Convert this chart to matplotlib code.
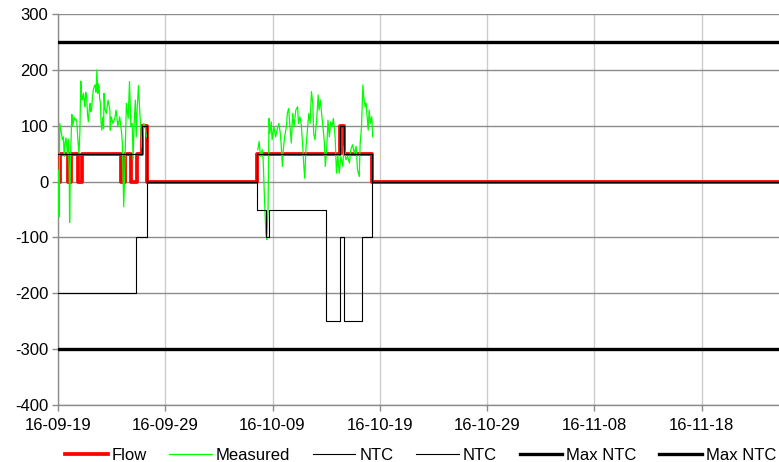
import datetime as dt
import numpy as np
import matplotlib
matplotlib.use("Agg")
import matplotlib.pyplot as plt
import matplotlib.dates as mdates

plt.rcParams['font.family'] = ['Liberation Sans', 'DejaVu Sans']
plt.rcParams['axes.unicode_minus'] = False

# --- data (hours after 2016-09-19 00:00) -----------------------------------

START = dt.datetime(2016, 9, 19)
END_HOURS = 1613

flow_hours = [0, 4, 22, 25, 27, 30, 45, 54, 142, 151, 163, 176, 187, 198,
              446, 631, 640, 702, 1700]
flow_vals = [0, 50, 0, 50, 0, 50, 0, 50, 0, 50, 0, 50, 100, 0,
             50, 100, 50, 0, 0]

meas_hours_1 = [1, 2, 4, 7, 10, 12, 14, 16, 18, 21, 23, 25, 26, 28, 29, 31, 32,
                34, 36, 38, 40, 42, 44, 45, 47, 49, 51, 53, 54, 57, 59, 60, 62,
                64, 66, 68, 70, 72, 73, 75, 77, 79, 81, 83, 85, 87, 89, 90, 92,
                93, 95, 96, 98, 100, 102, 103, 105, 108, 112, 116, 117, 119,
                123, 127, 130, 134, 138, 142, 144, 147, 149, 153, 157, 160,
                163, 166, 168, 170, 173, 175, 177, 180, 184, 188, 192, 195, 198]
meas_vals_1 = [20, -63, 104, 90, 75, 80, 45, 70, 78, 50, 76, 20, -73, 40, 70,
               120, 100, 104, 115, 110, 112, 108, 80, 70, 50, 90, 180, 150,
               146, 158, 140, 134, 160, 152, 120, 107, 130, 140, 125, 128, 150,
               164, 170, 173, 160, 200, 158, 175, 170, 150, 140, 110, 92, 115,
               95, 158, 130, 122, 146, 128, 92, 116, 104, 113, 128, 98, 116,
               89, 68, -45, 9, 140, 113, 179, 98, 104, 39, 98, 146, 80, 128,
               172, 110, 60, 104, 98, 80]

meas_hours_2 = [447, 450, 453, 457, 459, 462, 465, 467, 470, 472, 474, 477,
                479, 483, 487, 490, 494, 497, 499, 502, 504, 507, 511, 513,
                516, 519, 522, 525, 528, 532, 536, 538, 541, 544, 547, 550,
                552, 555, 558, 561, 564, 567, 570, 572, 575, 579, 582, 584,
                587, 590, 592, 596, 598, 601, 604, 607, 610, 613, 616, 620,
                623, 626, 629, 633, 637, 640, 644, 648, 652, 655, 659, 663,
                667, 670, 674, 676, 679, 682, 684, 687, 689, 691, 694, 696,
                699, 702, 704]
meas_vals_2 = [57, 72, 45, 57, 39, -33, -92, -104, -45, 113, 86, 107, 75, 98,
               80, 92, 104, 89, 69, 27, 57, 80, 98, 122, 131, 98, 69, 122, 98,
               128, 134, 104, 116, 104, 69, 27, 6, 63, 92, 122, 104, 161, 140,
               86, 75, 116, 155, 128, 146, 119, 104, 69, 27, 57, 110, 80, 107,
               98, 113, 80, 15, 48, 15, 45, 27, 63, 39, 45, 33, 57, 66, 51, 63,
               21, 9, 69, 98, 173, 152, 134, 140, 122, 92, 128, 104, 116, 80]

ntc_up_hours = [0, 187, 198, 446, 631, 640, 702, 1700]
ntc_up_vals = [50, 100, 0, 50, 100, 50, 0, 0]

ntc_down_hours = [0, 175, 198, 446, 465, 473, 599, 631, 640, 679, 702, 1700]
ntc_down_vals = [-200, -100, 0, -50, -100, -50, -250, -100, -250, -100, 0, 0]

max_ntc_up = 250
max_ntc_down = -300

y_ticks = [-400, -300, -200, -100, 0, 100, 200, 300]


def to_dates(hours):
    return [START + dt.timedelta(hours=h) for h in hours]


# --- plot ------------------------------------------------------------------

fig = plt.figure(figsize=(7.79, 4.62), dpi=100)
ax = fig.add_axes([58 / 779, 1 - 405 / 462, 1 - 58 / 779, (405 - 14) / 462])

x_end = START + dt.timedelta(hours=END_HOURS)

meas_t = to_dates(meas_hours_1) + [START + dt.timedelta(hours=300)] + to_dates(meas_hours_2)
meas_v = meas_vals_1 + [np.nan] + meas_vals_2

ax.plot(to_dates(flow_hours), flow_vals, drawstyle="steps-post",
        color="#ff0000", lw=2.7, label="Flow", zorder=3)
ax.plot(meas_t, meas_v, color="#00ff00", lw=0.9, label="Measured", zorder=4)
ax.plot(to_dates(ntc_up_hours), ntc_up_vals, drawstyle="steps-post",
        color="black", lw=0.8, label="NTC", zorder=5)
ax.plot(to_dates(ntc_down_hours), ntc_down_vals, drawstyle="steps-post",
        color="black", lw=0.8, label="NTC", zorder=5)
ax.plot([START, x_end], [max_ntc_up] * 2, color="black", lw=2.4,
        label="Max NTC", zorder=6)
ax.plot([START, x_end], [max_ntc_down] * 2, color="black", lw=2.4,
        label="Max NTC", zorder=6)

ax.set_xlim(START, x_end)
ax.set_ylim(-400, 300)
ax.set_yticks(y_ticks)
ax.set_xticks([START + dt.timedelta(days=10 * k) for k in range(7)])
ax.xaxis.set_major_formatter(mdates.DateFormatter("%y-%m-%d"))

ax.grid(True, axis="y", color="#8c8c8c", lw=1.0)
ax.grid(True, axis="x", color="#cccccc", lw=1.0)
ax.set_axisbelow(True)

for s in ["top", "right"]:
    ax.spines[s].set_visible(False)
for s in ["left", "bottom"]:
    ax.spines[s].set_color("#8c8c8c")
    ax.spines[s].set_linewidth(1.0)

ax.tick_params(axis="both", labelsize=12, colors="#8c8c8c", labelcolor="black",
               length=4, width=1.0)
ax.tick_params(axis="x", pad=5)
ax.tick_params(axis="y", pad=3)

fig.legend(loc="center left", bbox_to_anchor=(65 / 779, 1 - 455 / 462), ncol=6,
           frameon=False, fontsize=12, handlelength=2.55, handletextpad=0.25,
           columnspacing=1.35, borderpad=0, borderaxespad=0)

fig.savefig("out.png", dpi=100)
